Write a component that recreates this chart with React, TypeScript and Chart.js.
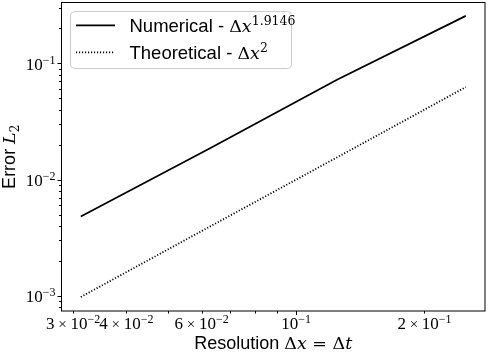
import React, { useEffect, useRef } from "react";
import { Chart, registerables } from "chart.js";

Chart.register(...registerables);

// ---- data ----
const resolution = [0.03125, 0.0625, 0.125, 0.25];
const numericalError = [0.00481, 0.01845, 0.0726, 0.256];
const theoreticalError = [0.000977, 0.00391, 0.0156, 0.0625];

const seriesLabels = ["Numerical - ", "Theoretical - "];
const seriesExponents = ["1.9146", "2"];

// axis limits
const xMin = 0.02816;
const xMax = 0.2773;
const yMin = 0.00074;
const yMax = 0.334;

// ticks
const xTickValues = [0.03, 0.04, 0.06, 0.1, 0.2];
const xTickMantissas = ["3", "4", "6", "", "2"];
const xTickExponents = ["−2", "−2", "−2", "−1", "−1"];
const xTickMajor = [false, false, false, true, false];
const xMinorTicks = [0.05, 0.07, 0.08, 0.09];
const yTickValues = [0.001, 0.01, 0.1];
const yTickExponents = ["−3", "−2", "−1"];
const yMinorTicks = [
  0.0008, 0.0009, 0.002, 0.003, 0.004, 0.005, 0.006, 0.007, 0.008, 0.009,
  0.02, 0.03, 0.04, 0.05, 0.06, 0.07, 0.08, 0.09, 0.2, 0.3,
];

const SANS = "'Liberation Sans', Arial, sans-serif";
const SERIF = "'Liberation Serif', 'Times New Roman', serif";
const MATH = "'DejaVu Serif', serif";

type Part = { text: string; font: string; dy?: number };

function richWidth(ctx: CanvasRenderingContext2D, parts: Part[]) {
  let w = 0;
  for (const p of parts) {
    ctx.font = p.font;
    w += ctx.measureText(p.text).width;
  }
  return w;
}

function drawRich(
  ctx: CanvasRenderingContext2D,
  parts: Part[],
  x: number,
  y: number,
  align: "left" | "center" | "right"
) {
  const w = richWidth(ctx, parts);
  let cx = align === "left" ? x : align === "center" ? x - w / 2 : x - w;
  ctx.textAlign = "left";
  ctx.textBaseline = "alphabetic";
  for (const p of parts) {
    ctx.font = p.font;
    ctx.fillText(p.text, cx, y + (p.dy || 0));
    cx += ctx.measureText(p.text).width;
  }
}

const decorPlugin = {
  id: "decor",
  afterDraw(chart: any) {
    const ctx: CanvasRenderingContext2D = chart.ctx;
    const { left, right, top, bottom } = chart.chartArea;
    const xs = chart.scales.x;
    const ys = chart.scales.y;
    ctx.save();
    ctx.fillStyle = "#000";
    ctx.strokeStyle = "#000";

    // frame
    ctx.lineWidth = 1;
    ctx.strokeRect(left, top, right - left, bottom - top);

    // ticks
    const tick = (x1: number, y1: number, x2: number, y2: number) => {
      ctx.beginPath();
      ctx.moveTo(x1, y1);
      ctx.lineTo(x2, y2);
      ctx.stroke();
    };
    ctx.lineWidth = 1;
    xTickValues.forEach((v, i) => {
      const px = Math.round(xs.getPixelForValue(v)) + 0.5;
      tick(px, bottom, px, bottom + (xTickMajor[i] ? 4 : 2.5));
    });
    xMinorTicks.forEach((v) => {
      const px = Math.round(xs.getPixelForValue(v)) + 0.5;
      tick(px, bottom, px, bottom + 2.5);
    });
    yTickValues.forEach((v) => {
      const py = Math.round(ys.getPixelForValue(v)) + 0.5;
      tick(left, py, left - 4, py);
    });
    yMinorTicks.forEach((v) => {
      const py = Math.round(ys.getPixelForValue(v)) + 0.5;
      tick(left, py, left - 2.5, py);
    });

    // tick labels
    const base = `17px ${SERIF}`;
    const sup = `12px ${SERIF}`;
    xTickValues.forEach((v, i) => {
      const px = xs.getPixelForValue(v);
      const parts: Part[] = [];
      if (xTickMantissas[i]) {
        parts.push({ text: xTickMantissas[i], font: base });
        parts.push({ text: " × ", font: `15px ${SERIF}` });
      }
      parts.push({ text: "10", font: base });
      parts.push({ text: xTickExponents[i], font: sup, dy: -6 });
      drawRich(ctx, parts, px, bottom + 18, "center");
    });
    yTickValues.forEach((v, i) => {
      const py = ys.getPixelForValue(v);
      drawRich(
        ctx,
        [
          { text: "10", font: base },
          { text: yTickExponents[i], font: sup, dy: -6 },
        ],
        left - 6,
        py + 6.5,
        "right"
      );
    });

    // axis titles
    const tf = `18px ${SANS}`;
    const mf = `17.5px ${MATH}`;
    const mi = `italic 17.5px ${MATH}`;
    drawRich(
      ctx,
      [
        { text: "Resolution ", font: tf },
        { text: "Δ", font: mf },
        { text: "x", font: mi },
        { text: " = ", font: mf },
        { text: "Δ", font: mf },
        { text: "t", font: mi },
      ],
      (left + right) / 2,
      349,
      "center"
    );
    ctx.save();
    ctx.translate(15, (top + bottom) / 2);
    ctx.rotate(-Math.PI / 2);
    drawRich(
      ctx,
      [
        { text: "Error ", font: tf },
        { text: "L", font: mi },
        { text: "2", font: `12px ${MATH}`, dy: 3.5 },
      ],
      0,
      0,
      "center"
    );
    ctx.restore();

    // legend
    const lx = 70.5, ly = 11.5, lw = 221, lh = 57;
    ctx.beginPath();
    (ctx as any).roundRect(lx, ly, lw, lh, 4);
    ctx.fillStyle = "rgba(255,255,255,0.8)";
    ctx.fill();
    ctx.strokeStyle = "#cccccc";
    ctx.lineWidth = 1;
    ctx.stroke();

    const rows = [25.3, 52.3];
    const dashes = [[], [1.15, 1.85]];
    chart.data.datasets.forEach((ds: any, i: number) => {
      ctx.strokeStyle = ds.borderColor;
      ctx.lineWidth = ds.borderWidth;
      ctx.setLineDash(dashes[i]);
      ctx.beginPath();
      ctx.moveTo(76, rows[i]);
      ctx.lineTo(115, rows[i]);
      ctx.stroke();
      ctx.setLineDash([]);
      ctx.fillStyle = "#000";
      drawRich(
        ctx,
        [
          { text: seriesLabels[i], font: `18.5px ${SANS}` },
          { text: "Δ", font: `17.5px ${MATH}` },
          { text: "x", font: `italic 17.5px ${MATH}` },
          { text: seriesExponents[i], font: `12.5px ${MATH}`, dy: -7 },
        ],
        129.5,
        rows[i] + 6.6,
        "left"
      );
    });

    ctx.restore();
  },
};

export default function App() {
  const ref = useRef<HTMLCanvasElement | null>(null);

  useEffect(() => {
    if (!ref.current) return;
    const chart = new Chart(ref.current, {
      type: "line",
      data: {
        datasets: [
          {
            label: seriesLabels[0],
            data: resolution.map((x, i) => ({ x, y: numericalError[i] })),
            borderColor: "#000000",
            borderWidth: 1.8,
            pointRadius: 0,
            fill: false,
            tension: 0,
          },
          {
            label: seriesLabels[1],
            data: resolution.map((x, i) => ({ x, y: theoreticalError[i] })),
            borderColor: "#000000",
            borderWidth: 1.8,
            borderDash: [1.15, 1.85],
            pointRadius: 0,
            fill: false,
            tension: 0,
          },
        ],
      },
      options: {
        animation: false,
        responsive: false,
        devicePixelRatio: 1,
        layout: { padding: { left: 61.5, right: 3, top: 2.5, bottom: 47 } },
        plugins: {
          legend: { display: false },
          tooltip: { enabled: false },
        },
        scales: {
          x: {
            type: "logarithmic",
            min: xMin,
            max: xMax,
            ticks: { display: false },
            grid: { display: false },
            border: { display: false },
            afterFit: (s: any) => {
              s.height = 0;
            },
          },
          y: {
            type: "logarithmic",
            min: yMin,
            max: yMax,
            ticks: { display: false },
            grid: { display: false },
            border: { display: false },
            afterFit: (s: any) => {
              s.width = 0;
            },
          },
        },
      },
      plugins: [decorPlugin],
    });
    return () => chart.destroy();
  }, []);

  return (
    <div style={{ position: "fixed", left: 0, top: 0, width: 488, height: 358, background: "#fff" }}>
      <canvas ref={ref} width={488} height={358} style={{ display: "block" }} />
    </div>
  );
}
